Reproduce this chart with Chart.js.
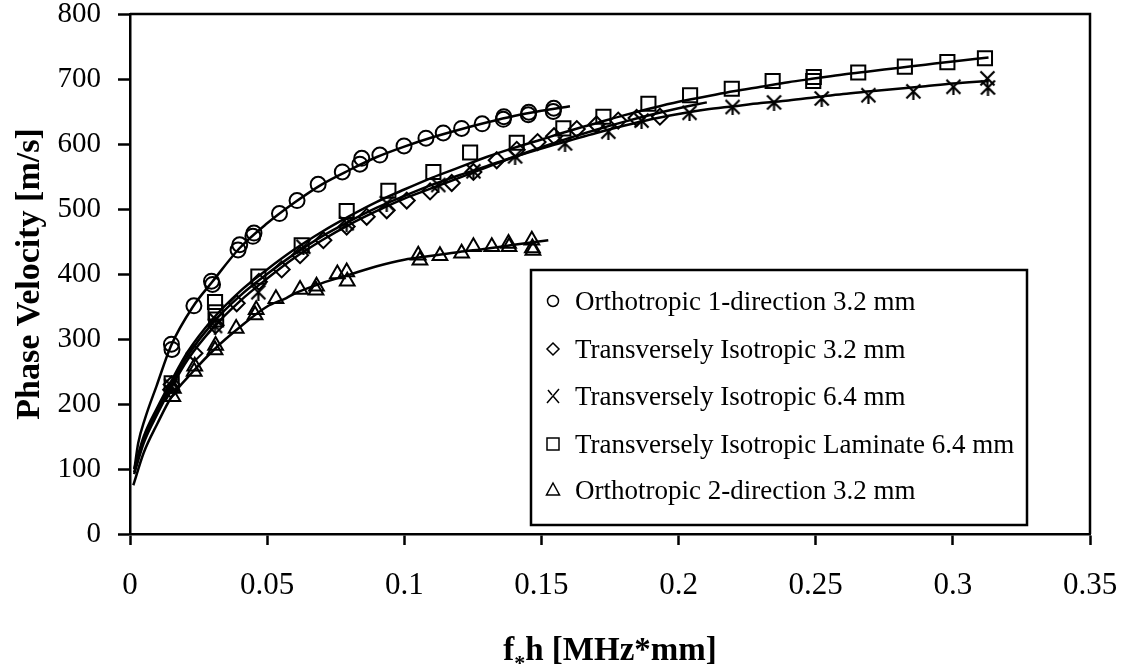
<!DOCTYPE html>
<html><head><meta charset="utf-8">
<script src="https://cdn.jsdelivr.net/npm/chart.js@4"></script>
<style>html,body{margin:0;padding:0;background:#fff;}#wrap{width:1128px;height:670px;}</style>
</head><body><div id="wrap"><canvas id="c" width="1128" height="670"></canvas></div>
<script>
// ---------- data ----------
const seriesNames = ['Orthotropic 1-direction 3.2 mm','Transversely Isotropic 3.2 mm','Transversely Isotropic 6.4 mm','Transversely Isotropic Laminate 6.4 mm','Orthotropic 2-direction 3.2 mm'];
const xTickLabels = ['0','0.05','0.1','0.15','0.2','0.25','0.3','0.35'];
const yTickLabels = ['0','100','200','300','400','500','600','700','800'];
const xTitleParts = ['f', '*', 'h [MHz*mm]'];
const yTitle = 'Phase Velocity [m/s]';

// Orthotropic 1-direction 3.2 mm (circles)
const ortho1X = [0.0151,0.0153,0.0233,0.0297,0.0301,0.0394,0.0400,0.0448,0.0452,0.0545,0.0609,0.0686,0.0774,0.0838,0.0845,0.0911,0.0999,0.1079,0.1142,0.1209,0.1284,0.1361,0.1363,0.1452,0.1454,0.1543,0.1545];
const ortho1Y = [292,284,351,389,384,437,445,458,463,493,513,538,557,569,578,583,597,609,617,624,631,638,642,645,649,650,655];
const ortho1FitX = [0.0016,0.003,0.0055,0.0097,0.015,0.023,0.03,0.04,0.05,0.06,0.07,0.08,0.09,0.1,0.11,0.12,0.13,0.14,0.15,0.1604];
const ortho1FitY = [100,140,178,228,290,350,388,440,478,510,538,560,580,596,610,622,633,643,651,658];

// Transversely Isotropic 3.2 mm (diamonds)
const ti32X = [0.0150,0.0152,0.0235,0.0312,0.0389,0.0470,0.0553,0.0620,0.0705,0.0790,0.0863,0.0936,0.1009,0.1094,0.1173,0.1252,0.1337,0.1410,0.1486,0.1546,0.1629,0.1701,0.1780,0.1847,0.1932];
const ti32Y = [222,230,278,321,355,388,407,429,452,473,488,498,513,527,540,557,575,591,603,612,623,630,636,640,642];
const ti32FitX = [0.0015,0.005,0.01,0.015,0.021,0.03,0.04,0.05,0.06,0.07,0.08,0.09,0.1,0.11,0.12,0.13,0.14,0.15,0.16,0.17,0.18,0.19,0.2,0.2103];
const ti32FitY = [92,140,185,225,268,316,358,393,425,452,476,497,516,532,548,564,580,595,609,622,634,645,655,664];

// Transversely Isotropic 6.4 mm (asterisks)
const ti64X = [0.0150,0.0310,0.0312,0.0468,0.0632,0.0790,0.0936,0.1124,0.1252,0.1404,0.1586,0.1744,0.1865,0.2040,0.2197,0.2348,0.2522,0.2692,0.2856,0.3002,0.3126,0.3128];
const ti64Y = [228,320,330,372,442,478,509,537,558,581,601,619,636,648,657,664,670,675,681,688,701,687];
const ti64FitX = [0.0015,0.005,0.01,0.015,0.021,0.03,0.04,0.05,0.06,0.07,0.08,0.09,0.1,0.11,0.12,0.13,0.14,0.15,0.16,0.17,0.18,0.19,0.2,0.21,0.22,0.23,0.24,0.25,0.26,0.27,0.28,0.29,0.3,0.313];
const ti64FitY = [95,145,190,230,274,324,366,400,431,458,481,502,520,537,552,566,580,593,605,617,628,638,646,653,658,663,667,672,677,681,685,689,693,697];

// Transversely Isotropic Laminate 6.4 mm (squares)
const lamX = [0.0152,0.0310,0.0312,0.0314,0.0468,0.0626,0.0790,0.0942,0.1106,0.1240,0.1410,0.1580,0.1726,0.1890,0.2042,0.2194,0.2343,0.2491,0.2493,0.2655,0.2825,0.2980,0.3117];
const lamY = [232,357,341,330,396,444,497,528,557,587,602,624,642,662,675,685,697,697,703,710,719,726,732];
const lamFitX = [0.0015,0.005,0.01,0.015,0.021,0.03,0.04,0.05,0.06,0.07,0.08,0.09,0.1,0.11,0.12,0.13,0.14,0.15,0.16,0.17,0.18,0.19,0.2,0.21,0.22,0.23,0.24,0.25,0.26,0.27,0.28,0.29,0.3,0.313];
const lamFitY = [100,150,195,235,280,330,373,407,438,465,489,511,530,548,564,580,594,607,620,632,644,655,665,673,681,688,695,701,707,712,717,722,727,733];

// Orthotropic 2-direction 3.2 mm (triangles)
const ortho2X = [0.0156,0.0158,0.0234,0.0236,0.0310,0.0312,0.0387,0.0456,0.0460,0.0532,0.0620,0.0678,0.0680,0.0756,0.0790,0.0792,0.1051,0.1057,0.1130,0.1209,0.1252,0.1319,0.1380,0.1382,0.1465,0.1467,0.1469];
const ortho2Y = [211,224,250,258,283,290,316,337,345,362,376,375,381,400,403,389,429,421,428,432,442,442,447,442,452,440,436];
const ortho2FitX = [0.0012,0.005,0.01,0.015,0.023,0.031,0.04,0.05,0.057,0.06,0.07,0.08,0.09,0.1,0.11,0.12,0.13,0.14,0.1525];
const ortho2FitY = [75,125,170,210,250,285,318,350,363,370,386,399,412,422,428,434,439,445,452];

// ---------- helpers ----------
const FONT = '"Liberation Serif","Times New Roman",Times,serif';
const pts = (xs, ys) => xs.map((x, i) => ({x: x, y: ys[i]}));

function makeStar(size, lw) {
  const c = document.createElement('canvas');
  c.width = size; c.height = size;
  const g = c.getContext('2d');
  const m = 1.5, s = size;
  g.strokeStyle = '#000'; g.lineWidth = lw; g.lineCap = 'butt';
  g.beginPath();
  g.moveTo(m, m); g.lineTo(s - m, s - m);
  g.moveTo(s - m, m); g.lineTo(m, s - m);
  g.moveTo(s / 2, s / 2); g.lineTo(s / 2, s);
  g.stroke();
  return c;
}
const starImg = makeStar(17, 2.2);

function scatterSet(data, style, radius) {
  return {type: 'scatter', data: data, showLine: false, pointStyle: style, pointRadius: radius,
    pointHoverRadius: radius, pointBorderColor: '#000', pointBackgroundColor: 'rgba(0,0,0,0)', pointBorderWidth: 2};
}
function fitSet(data) {
  return {type: 'scatter', data: data, showLine: true, pointRadius: 0, pointHoverRadius: 0,
    borderColor: '#000', borderWidth: 2.5, backgroundColor: 'rgba(0,0,0,0)', fill: false,
    cubicInterpolationMode: 'monotone'};
}

// frame, x-axis title and legend plugin
const framePlugin = {
  id: 'frameLegend',
  afterDraw(chart) {
    const ctx = chart.ctx, a = chart.chartArea;
    ctx.save();
    ctx.strokeStyle = '#000';
    ctx.lineWidth = 2.5;
    ctx.beginPath();
    ctx.moveTo(a.left, a.top); ctx.lineTo(a.right, a.top); ctx.lineTo(a.right, a.bottom);
    ctx.stroke();

    // x axis title with a small lowered asterisk
    ctx.fillStyle = '#000';
    ctx.textBaseline = 'alphabetic';
    ctx.textAlign = 'left';
    const bigF = 'bold 33px ' + FONT, smallF = 'bold 22px ' + FONT;
    ctx.font = bigF; const w1 = ctx.measureText(xTitleParts[0]).width, w3 = ctx.measureText(xTitleParts[2]).width;
    ctx.font = smallF; const w2 = ctx.measureText(xTitleParts[1]).width;
    let tx = (a.left + a.right) / 2 - (w1 + w2 + w3) / 2;
    const ty = 660;
    ctx.font = bigF; ctx.fillText(xTitleParts[0], tx, ty); tx += w1;
    ctx.font = smallF; ctx.fillText(xTitleParts[1], tx, ty + 10); tx += w2;
    ctx.font = bigF; ctx.fillText(xTitleParts[2], tx, ty);

    // legend box
    const bx = 531, by = 270, bw = 496, bh = 255;
    ctx.fillStyle = '#fff';
    ctx.fillRect(bx, by, bw, bh);
    ctx.lineWidth = 2.5;
    ctx.strokeRect(bx, by, bw, bh);
    const rows = [301, 349, 396, 444, 490];
    const mx = 553;
    ctx.lineWidth = 1.5;
    ctx.fillStyle = '#000';
    ctx.font = '27px ' + FONT;
    rows.forEach((ry, i) => {
      ctx.beginPath();
      if (i === 0) { ctx.arc(mx, ry, 5.5, 0, Math.PI * 2); ctx.stroke(); }
      else if (i === 1) { ctx.moveTo(mx, ry - 6); ctx.lineTo(mx + 6, ry); ctx.lineTo(mx, ry + 6); ctx.lineTo(mx - 6, ry); ctx.closePath(); ctx.stroke(); }
      else if (i === 2) {
        ctx.moveTo(mx + 6, ry - 7); ctx.lineTo(mx - 6, ry + 7);
        ctx.moveTo(mx, ry); ctx.lineTo(mx + 6, ry + 7);
        ctx.moveTo(mx - 1, ry - 1); ctx.lineTo(mx - 5, ry - 6);
        ctx.stroke();
      }
      else if (i === 3) { ctx.strokeRect(mx - 6, ry - 6, 12, 12); }
      else { ctx.moveTo(mx, ry - 7); ctx.lineTo(mx + 6.5, ry + 5); ctx.lineTo(mx - 6.5, ry + 5); ctx.closePath(); ctx.stroke(); }
      ctx.fillText(seriesNames[i], 575, ry + 9);
    });
    ctx.restore();
  }
};

new Chart(document.getElementById('c'), {
  type: 'scatter',
  data: {
    datasets: [
      fitSet(pts(ortho1FitX, ortho1FitY)),
      fitSet(pts(ti32FitX, ti32FitY)),
      fitSet(pts(ti64FitX, ti64FitY)),
      fitSet(pts(lamFitX, lamFitY)),
      fitSet(pts(ortho2FitX, ortho2FitY)),
      scatterSet(pts(ortho1X, ortho1Y), 'circle', 7.5),
      scatterSet(pts(ti32X, ti32Y), 'rectRot', 8),
      scatterSet(pts(ti64X, ti64Y), starImg, 8),
      scatterSet(pts(lamX, lamY), 'rect', 10),
      scatterSet(pts(ortho2X, ortho2Y), 'triangle', 8.5)
    ]
  },
  options: {
    responsive: false,
    animation: false,
    events: [],
    layout: {padding: {top: 14, right: 38, left: 0, bottom: 0}},
    plugins: {legend: {display: false}, tooltip: {enabled: false}},
    scales: {
      x: {
        type: 'linear', min: 0, max: 0.35,
        afterFit(s) { s.height = 136; s.paddingLeft = 0; s.paddingRight = 0; },
        ticks: {stepSize: 0.05, color: '#000', font: {family: FONT, size: 31}, padding: 22,
          maxRotation: 0, autoSkip: false,
          callback: (v, i) => xTickLabels[Math.round(v / 0.05)]},
        grid: {drawOnChartArea: false, drawTicks: true, tickLength: 11, tickWidth: 2.5, tickColor: '#000'},
        border: {display: true, color: '#000', width: 2.5},
        title: {display: false}
      },
      y: {
        type: 'linear', min: 0, max: 800,
        afterFit(s) { s.width = 130; s.paddingTop = 0; s.paddingBottom = 0; },
        ticks: {stepSize: 100, color: '#000', font: {family: FONT, size: 29}, padding: 17,
          callback: (v) => yTickLabels[Math.round(v / 100)]},
        grid: {drawOnChartArea: false, drawTicks: true, tickLength: 12, tickWidth: 2.5, tickColor: '#000'},
        border: {display: true, color: '#000', width: 2.5},
        title: {display: true, text: yTitle, color: '#000',
          font: {family: FONT, size: 34, weight: 'bold'}, padding: {top: 10, bottom: 0}}
      }
    }
  },
  plugins: [framePlugin]
});
</script></body></html>
